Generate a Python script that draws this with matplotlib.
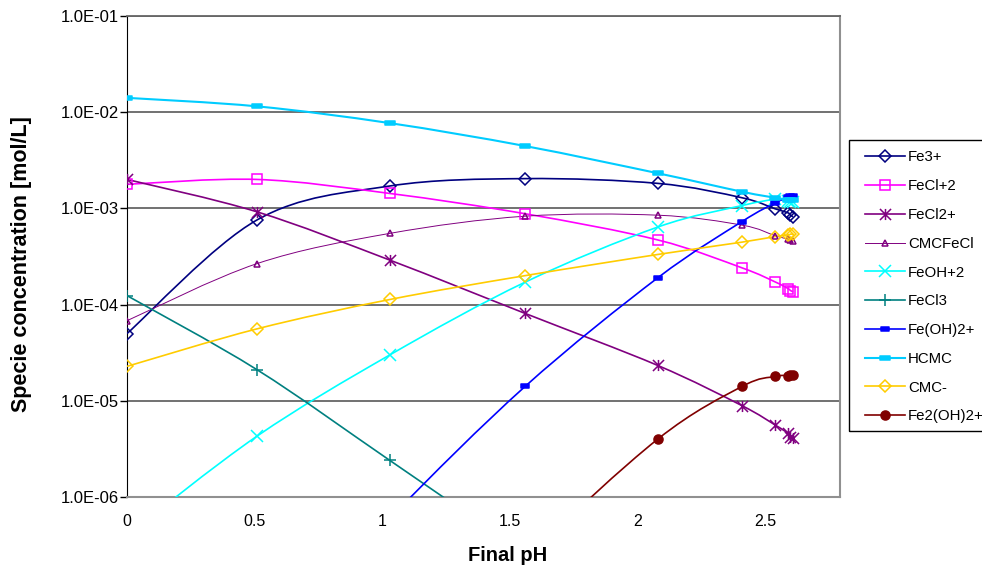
import numpy as np
import matplotlib
matplotlib.use("Agg")
import matplotlib.pyplot as plt
from matplotlib.path import Path
from matplotlib.patches import PathPatch, Rectangle
from matplotlib.lines import Line2D

plt.rcParams['font.family'] = ['Liberation Sans', 'DejaVu Sans']

# final pH of each run
ph = [0, 0.51, 1.03, 1.56, 2.08, 2.41, 2.54, 2.59, 2.60, 2.61]

# species concentrations [mol/L]
fe3 = [5.0e-5, 7.6e-4, 1.71e-3, 2.04e-3, 1.82e-3, 1.29e-3, 9.9e-4, 9.0e-4, 8.5e-4, 8.2e-4]
fecl_2 = [1.78e-3, 2.0e-3, 1.43e-3, 8.8e-4, 4.7e-4, 2.41e-4, 1.72e-4, 1.47e-4, 1.40e-4, 1.36e-4]
fecl2_ = [2.0e-3, 9.2e-4, 2.9e-4, 8.1e-5, 2.33e-5, 8.9e-6, 5.6e-6, 4.6e-6, 4.25e-6, 4.1e-6]
cmcfecl = [6.8e-5, 2.67e-4, 5.5e-4, 8.3e-4, 8.5e-4, 6.7e-4, 5.2e-4, 4.8e-4, 4.7e-4, 4.6e-4]
feoh_2 = [4.0e-7, 4.3e-6, 3.0e-5, 1.71e-4, 6.4e-4, 1.07e-3, 1.24e-3, 1.18e-3, 1.17e-3, 1.16e-3]
fecl3 = [1.24e-4, 2.1e-5, 2.4e-6, 2.6e-7, 3.0e-8, 8.0e-9, 4.5e-9, 3.7e-9, 3.5e-9, 3.4e-9]
feoh2_ = [3.0e-10, 2.0e-8, 6.0e-7, 1.41e-5, 1.9e-4, 7.3e-4, 1.14e-3, 1.30e-3, 1.33e-3, 1.35e-3]
hcmc = [1.41e-2, 1.15e-2, 7.7e-3, 4.45e-3, 2.32e-3, 1.49e-3, 1.29e-3, 1.23e-3, 1.22e-3, 1.21e-3]
cmc_ = [2.28e-5, 5.6e-5, 1.13e-4, 2.0e-4, 3.32e-4, 4.46e-4, 5.1e-4, 5.3e-4, 5.4e-4, 5.4e-4]
fe2oh2 = [1.0e-12, 5.0e-11, 1.0e-8, 2.3e-7, 4.0e-6, 1.41e-5, 1.79e-5, 1.83e-5, 1.84e-5, 1.85e-5]

labels = ["Fe3+", "FeCl+2", "FeCl2+", "CMCFeCl", "FeOH+2", "FeCl3",
          "Fe(OH)2+", "HCMC", "CMC-", "Fe2(OH)2+4"]

# excel style markers
asterisk = Path([(0, -1), (0, 1), (-1, -1), (1, 1), (-1, 1), (1, -1)],
                [Path.MOVETO, Path.LINETO] * 3)
dash = Path([(-1, -0.4), (1, -0.4), (1, 0.4), (-1, 0.4), (-1, -0.4)],
            [Path.MOVETO, Path.LINETO, Path.LINETO, Path.LINETO, Path.CLOSEPOLY])

styles = [
    # color, marker, size, filled, line width
    ("#000080", "D", 6.5, False, 1.2),
    ("#FF00FF", "s", 7, False, 1.2),
    ("#800080", asterisk, 8, False, 1.2),
    ("#800080", "^", 5, False, 0.7),
    ("#00FFFF", "x", 8, False, 1.2),
    ("#008080", "+", 9, False, 1.2),
    ("#0000FF", dash, 6, True, 1.2),
    ("#00CCFF", dash, 7, True, 1.5),
    ("#FFCC00", "D", 6.5, False, 1.2),
    ("#800000", "o", 6.5, True, 1.2),
]


def smooth_path(x, y):
    # catmull-rom like excel smoothing, done in log space
    x = np.asarray(x, float)
    ly = np.log10(np.asarray(y, float))
    px = np.concatenate([[x[0]], x, [x[-1]]])
    py = np.concatenate([[ly[0]], ly, [ly[-1]]])
    verts = [(x[0], 10 ** ly[0])]
    codes = [Path.MOVETO]
    for i in range(1, len(px) - 2):
        c1x = px[i] + (px[i + 1] - px[i - 1]) / 6
        c1y = py[i] + (py[i + 1] - py[i - 1]) / 6
        c2x = px[i + 1] - (px[i + 2] - px[i]) / 6
        c2y = py[i + 1] - (py[i + 2] - py[i]) / 6
        verts += [(c1x, 10 ** c1y), (c2x, 10 ** c2y), (px[i + 1], 10 ** py[i + 1])]
        codes += [Path.CURVE4] * 3
    return Path(verts, codes)


fig = plt.figure(figsize=(9.82, 5.65), dpi=100)
ax = fig.add_axes([127 / 982, 68 / 565, 713 / 982, 481 / 565])
ax.set_yscale("log")
ax.set_xlim(0, 2.794)
ax.set_ylim(1e-6, 1e-1)

series = [fe3, fecl_2, fecl2_, cmcfecl, feoh_2, fecl3, feoh2_, hcmc, cmc_, fe2oh2]
handles = []
for vals, lab, (col, mk, ms, filled, lw) in zip(series, labels, styles):
    ax.add_patch(PathPatch(smooth_path(ph, vals), fill=False, edgecolor=col,
                           lw=lw, zorder=3))
    mfc = col if filled else "none"
    ax.plot(ph, vals, linestyle="none", marker=mk, ms=ms, mfc=mfc, mec=col,
            mew=1.1, zorder=4)
    handles.append(Line2D([], [], color=col, lw=lw, marker=mk, ms=ms,
                          mfc=mfc, mec=col, mew=1.1))

ax.set_yticks([1e-6, 1e-5, 1e-4, 1e-3, 1e-2, 1e-1])
ax.set_yticklabels(["1.0E-06", "1.0E-05", "1.0E-04", "1.0E-03", "1.0E-02", "1.0E-01"])
ax.yaxis.set_minor_locator(matplotlib.ticker.NullLocator())
ax.set_xticks([0, 0.5, 1, 1.5, 2, 2.5])
ax.set_xticklabels(["0", "0.5", "1", "1.5", "2", "2.5"])
ax.tick_params(axis="y", direction="out", length=5, width=1, pad=1, labelsize=12)
ax.tick_params(axis="x", length=0, pad=12, labelsize=11.5)

ax.grid(axis="y", color="#666666", lw=1.3)
ax.set_axisbelow(True)
ax.spines["left"].set_color("black")
ax.spines["top"].set_color("#666666")
ax.spines["top"].set_linewidth(1.3)
for s in ["bottom", "right"]:
    ax.spines[s].set_color("#909090")
    ax.spines[s].set_linewidth(1.5)

ax.set_xlabel("Final pH", fontsize=14.5, fontweight="bold", va="top")
ax.xaxis.set_label_coords(0.534, -0.101)
ax.set_ylabel("Specie concentration [mol/L]", fontsize=15.5, fontweight="bold")
ax.yaxis.set_label_coords(-0.133, 0.485)

# legend box runs past the right edge, like the original
fig.patches.append(Rectangle((849 / 982, 1 - 431 / 565), 160 / 982, 291 / 565,
                             transform=fig.transFigure, fill=False,
                             edgecolor="black", lw=1.0))
leg = fig.legend(handles, labels, loc="upper left",
                 bbox_to_anchor=(865 / 982, 1 - 150.5 / 565),
                 fontsize=10.8, frameon=False, handlelength=2.67,
                 labelspacing=0.985, borderpad=0, handletextpad=0.2,
                 borderaxespad=0)

fig.savefig("out.png", dpi=100)
